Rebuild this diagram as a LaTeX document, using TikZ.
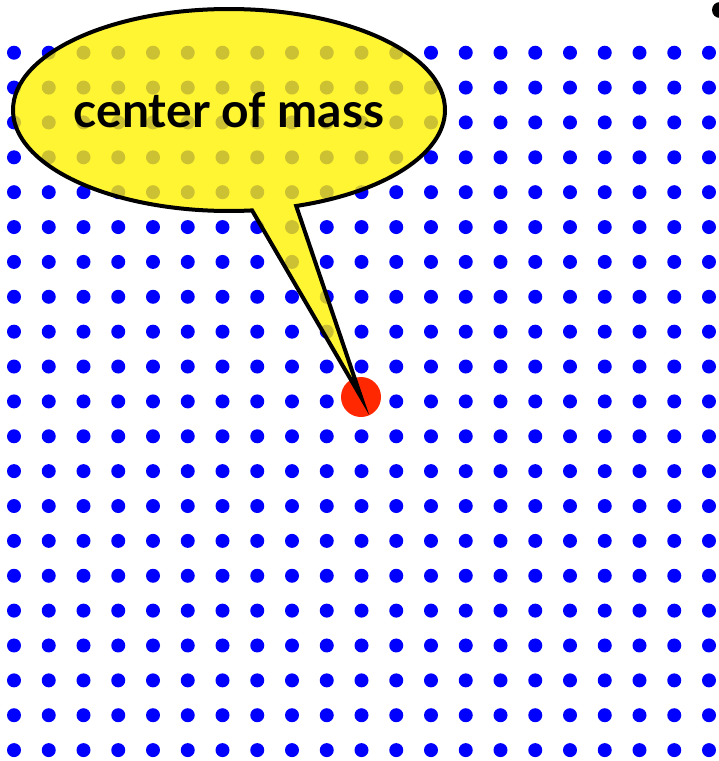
\documentclass[tikz,border=0pt]{standalone}
\usepackage{fontspec}
\setmainfont{Lato}
\usepackage{xcolor}
\usetikzlibrary{shapes.callouts}

\definecolor{cmred}{RGB}{255,40,0}

\begin{document}
\begin{tikzpicture}[
    x=1pt, y=-1pt,
    griddot/.style={circle, fill=blue, inner sep=0pt, minimum size=14pt},
    massdot/.style={circle, fill=cmred, inner sep=0pt, minimum size=40pt},
    bubble/.style={ellipse callout, draw, line width=4pt, fill=yellow,
                   fill opacity=0.8, text opacity=1, inner sep=0pt,
                   minimum width=432pt, minimum height=202pt,
                   callout pointer arc=12,
                   font=\bfseries\fontsize{48}{54}\selectfont}
]
\useasboundingbox (0,0) rectangle (719,761);

% grid of point masses
\foreach \i in {0,...,20}
  \foreach \j in {0,...,20}
    \node[griddot] (d-\i-\j) at ({14+34.75*\i},{52.7+34.87*\j}) {};

% corner dot
\node[circle, fill=black, inner sep=0pt, minimum size=16pt] (corner) at (720,10) {};

% center of mass
\node[massdot] (cm) at (361,397) {};

% callout
\node[bubble, callout absolute pointer={(cm.center)}] (label) at (229,110)
  {\makebox[0pt]{\raisebox{-4pt}{center of mass}}};

\end{tikzpicture}
\end{document}
